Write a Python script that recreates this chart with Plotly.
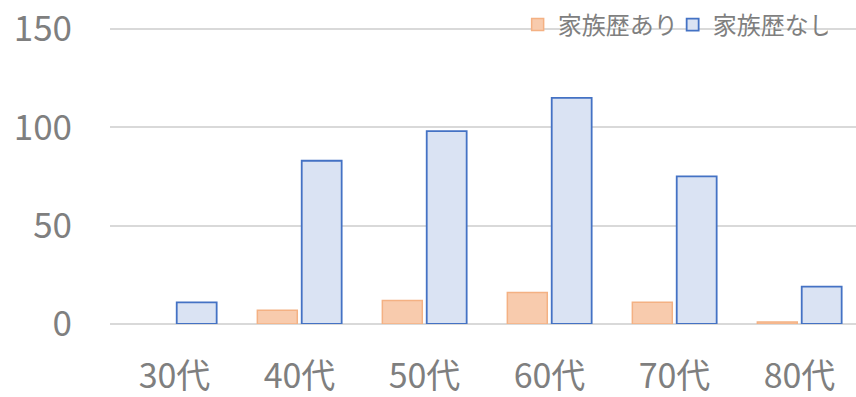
import plotly.graph_objects as go

categories = ["30代", "40代", "50代", "60代", "70代", "80代"]
ari = [None, 7, 12, 16, 11, 1]
nashi = [11, 83, 98, 115, 75, 19]
y_ticks = [0, 50, 100, 150]

FONT = "Noto Sans CJK JP"
GRAY = "#7f7f7f"

fig = go.Figure()
fig.add_trace(go.Bar(
    x=categories, y=ari, name="家族歴あり",
    marker=dict(color="#F8CBAD", line=dict(color="#F4B183", width=1.5)),
))
fig.add_trace(go.Bar(
    x=categories, y=nashi, name="家族歴なし",
    marker=dict(color="#DAE3F3", line=dict(color="#4472C4", width=1.8)),
))

fig.update_layout(
    width=856, height=397,
    margin=dict(l=110, r=0, t=25, b=73, autoexpand=False),
    paper_bgcolor="white", plot_bgcolor="white",
    barmode="group", bargap=0.29, bargroupgap=0.1,
    font=dict(family=FONT, color=GRAY),
    showlegend=True,
    legend=dict(
        orientation="h", x=0.962, xanchor="right", y=1.0, yanchor="middle",
        font=dict(family=FONT, size=24, color=GRAY),
        bgcolor="rgba(0,0,0,0)", traceorder="normal",
        itemwidth=30, entrywidth=110, entrywidthmode="pixels",
    ),
    xaxis=dict(
        range=[-0.516, 5.452],
        showgrid=False, showline=False, zeroline=False,
        ticks="outside", ticklen=22, tickcolor="rgba(0,0,0,0)",
        tickfont=dict(family=FONT, size=34, color=GRAY),
    ),
    yaxis=dict(
        range=[0, 152], tickvals=y_ticks,
        showgrid=True, gridcolor="#d9d9d9", gridwidth=1.5,
        zeroline=True, zerolinecolor="#d9d9d9", zerolinewidth=1.5,
        showline=False,
        ticks="outside", ticklen=30, tickcolor="rgba(0,0,0,0)",
        tickfont=dict(family=FONT, size=35, color=GRAY),
    ),
)

fig.write_html("out.html")
